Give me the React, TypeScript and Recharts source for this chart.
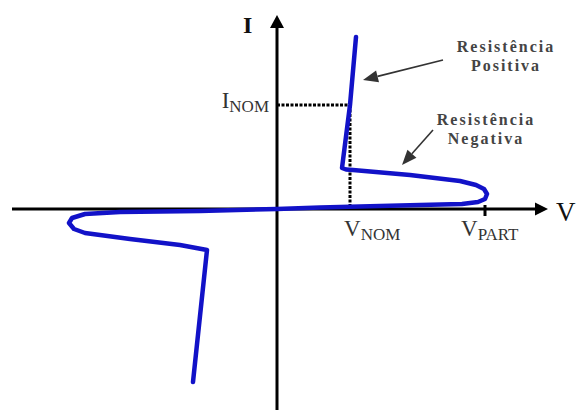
import { LineChart, Line, XAxis, YAxis, ReferenceLine, ReferenceDot } from "recharts";

// I-V curve (arbitrary units)
const curveV = [7.9, 7.3, 6.5, 6.9, 7.6, 13.3, 18.3, 19.9, 20.7, 21.0, 20.8, 20.1, 18.5, 14.3, 10.3, 4.3, 0, -7.7, -15.7, -19.2, -20.5, -20.8, -20.3, -19.2, -14.7, -9.7, -7.0, -8.4];
const curveI = [17.2, 10.4, 4.1, 3.95, 3.9, 3.4, 2.8, 2.4, 2.0, 1.5, 1.0, 0.7, 0.5, 0.4, 0.3, 0.15, 0, -0.2, -0.3, -0.5, -0.9, -1.4, -2.0, -2.4, -3.0, -3.6, -4.1, -17.3];

const V_NOM = 7.3;
const V_PART = 20.8;
const I_NOM = 10.4;

const vAxisEnds = [-26.5, 27.1];
const iAxisEnds = [-20.1, 19.4];

const annotations = [
  { lines: ["Resistência", "Positiva"], tail: [16.6, 14.9], tip: [8.6, 12.9], text: [22.9, 15.7] },
  { lines: ["Resistência", "Negativa"], tail: [15.6, 7.9], tip: [12.5, 4.4], text: [20.9, 8.4] },
];

const data = curveV.map((v, i) => ({ v, i: curveI[i] }));

const SERIF = "'Liberation Serif', 'Times New Roman', serif";

function arrow(color: string, width: number, head: number, headW: number) {
  return (p: any) => {
    const { x1, y1, x2, y2 } = p;
    if ([x1, y1, x2, y2].some((n) => typeof n !== "number" || isNaN(n))) return <g />;
    const a = Math.atan2(y2 - y1, x2 - x1);
    const bx = x2 - head * Math.cos(a);
    const by = y2 - head * Math.sin(a);
    const nx = (-Math.sin(a) * headW) / 2;
    const ny = (Math.cos(a) * headW) / 2;
    return (
      <g>
        <line x1={x1} y1={y1} x2={bx} y2={by} stroke={color} strokeWidth={width} />
        <polygon points={`${x2},${y2} ${bx + nx},${by + ny} ${bx - nx},${by - ny}`} fill={color} />
      </g>
    );
  };
}

function subLabel(main: string, sub: string, dx: number, dy: number, anchor: "start" | "end" = "start") {
  return (p: any) => (
    <text x={p.cx + dx} y={p.cy + dy} textAnchor={anchor} fontFamily={SERIF} fill="#333" fontSize={23}>
      {main}
      <tspan fontSize={17} dy={4}>{sub}</tspan>
    </text>
  );
}

function plainLabel(text: string, dx: number, dy: number, size: number, bold: boolean) {
  return (p: any) => (
    <text x={p.cx + dx} y={p.cy + dy} fontFamily={SERIF} fill="#111" fontSize={size} fontWeight={bold ? 700 : 400}>
      {text}
    </text>
  );
}

function noteLabel(lines: string[]) {
  return (p: any) => (
    <text x={p.cx} y={p.cy} textAnchor="middle" fontFamily={SERIF} fill="#444" fontSize={16} fontWeight={700} letterSpacing={2}>
      {lines.map((l, k) => (
        <tspan key={k} x={p.cx} dy={k === 0 ? 0 : 19}>{l}</tspan>
      ))}
    </text>
  );
}

export default function App() {
  return (
    <div style={{ position: "absolute", left: 0, top: 0, width: 578, height: 410, background: "#fff" }}>
      <LineChart width={578} height={410} data={data} margin={{ top: 0, right: 0, bottom: 0, left: 0 }}>
        <XAxis dataKey="v" type="number" domain={[-27.7, 30.1]} hide allowDataOverflow />
        <YAxis type="number" domain={[-20.1, 20.9]} hide allowDataOverflow />

        {/* axes */}
        <ReferenceLine
          segment={[{ x: vAxisEnds[0], y: 0 }, { x: vAxisEnds[1], y: 0 }]}
          ifOverflow="visible"
          shape={arrow("#000", 3, 13, 13)}
        />
        <ReferenceLine
          segment={[{ x: 0, y: iAxisEnds[0] }, { x: 0, y: iAxisEnds[1] }]}
          ifOverflow="visible"
          shape={arrow("#000", 3, 13, 14)}
        />
        <ReferenceLine
          segment={[{ x: V_PART, y: 0.4 }, { x: V_PART, y: -0.7 }]}
          ifOverflow="visible"
          stroke="#000"
          strokeWidth={3}
        />

        {/* nominal point guides */}
        <ReferenceLine
          segment={[{ x: 0, y: I_NOM }, { x: V_NOM, y: I_NOM }]}
          stroke="#000"
          strokeWidth={3}
          strokeDasharray="3 1.5"
        />
        <ReferenceLine
          segment={[{ x: V_NOM, y: I_NOM }, { x: V_NOM, y: 0 }]}
          stroke="#000"
          strokeWidth={3}
          strokeDasharray="3 1.5"
        />

        <Line
          dataKey="i"
          type="linear"
          stroke="#1212c8"
          strokeWidth={4.5}
          strokeLinejoin="round"
          strokeLinecap="round"
          dot={false}
          activeDot={false}
          isAnimationActive={false}
        />

        {/* annotation arrows */}
        {annotations.map((a, k) => (
          <ReferenceLine
            key={`arr${k}`}
            segment={[{ x: a.tail[0], y: a.tail[1] }, { x: a.tip[0], y: a.tip[1] }]}
            shape={arrow("#333", 1.6, 15, 12)}
          />
        ))}
        {annotations.map((a, k) => (
          <ReferenceDot key={`txt${k}`} x={a.text[0]} y={a.text[1]} r={1} shape={noteLabel(a.lines)} />
        ))}

        {/* axis & point labels */}
        <ReferenceDot x={0} y={iAxisEnds[1]} r={1} shape={plainLabel("I", -34, 18, 24, true)} />
        <ReferenceDot x={vAxisEnds[1]} y={0} r={1} shape={plainLabel("V", 8, 12, 27, false)} />
        <ReferenceDot x={0} y={I_NOM} r={1} shape={subLabel("I", "NOM", -8, 3, "end")} />
        <ReferenceDot x={V_NOM} y={0} r={1} shape={subLabel("V", "NOM", -6, 27)} />
        <ReferenceDot x={V_PART} y={0} r={1} shape={subLabel("V", "PART", -24, 27)} />
      </LineChart>
    </div>
  );
}
